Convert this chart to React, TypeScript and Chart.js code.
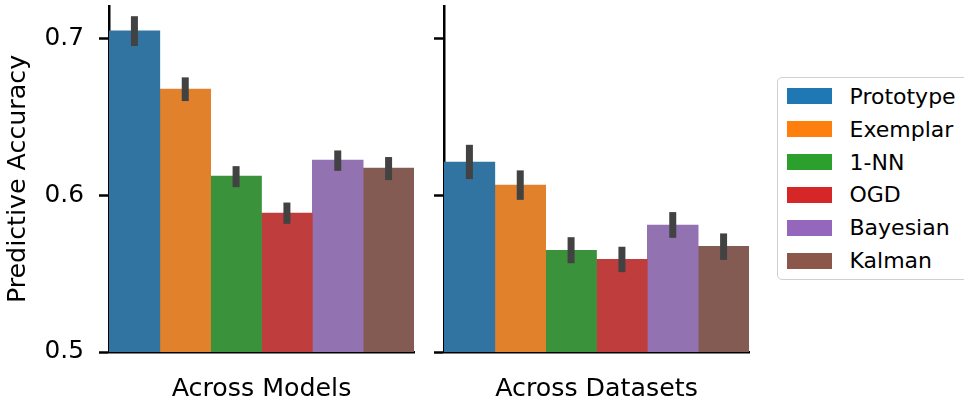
import React, { useEffect, useRef } from "react";
import { Chart, registerables } from "chart.js";

Chart.register(...registerables);

// ---- data ----
const methods = ["Prototype", "Exemplar", "1-NN", "OGD", "Bayesian", "Kalman"];
const panelNames = ["Across Models", "Across Datasets"];
const modelsMean = [0.7047, 0.6676, 0.6121, 0.5885, 0.6223, 0.6172];
const modelsLow = [0.6951, 0.66, 0.6051, 0.5817, 0.6155, 0.6096];
const modelsHigh = [0.7141, 0.6751, 0.6185, 0.5953, 0.6285, 0.6243];
const datasetsMean = [0.6211, 0.6064, 0.5649, 0.5591, 0.5809, 0.5674];
const datasetsLow = [0.6102, 0.597, 0.5566, 0.5509, 0.5728, 0.5587];
const datasetsHigh = [0.6321, 0.6158, 0.5732, 0.5671, 0.5892, 0.5756];
const yTicks = [0.5, 0.6, 0.7];
const yMin = 0.5;
const yMax = 0.7206;
const yTitle = "Predictive Accuracy";

// ---- styles ----
const barColors = ["#3274A1", "#E1812C", "#3A923A", "#C03D3E", "#9372B2", "#845B53"];
const legendColors = ["#1f77b4", "#ff7f0e", "#2ca02c", "#d62728", "#9467bd", "#8c564b"];
const FONT = "'DejaVu Sans', sans-serif";

const errorBarPlugin = {
  id: "errorBars",
  afterDatasetsDraw(chart: any, _args: any, opts: any) {
    const { ctx } = chart;
    const y = chart.scales.y;
    ctx.save();
    ctx.strokeStyle = opts.color;
    ctx.lineWidth = opts.width;
    ctx.lineCap = "butt";
    chart.data.datasets.forEach((_ds: any, i: number) => {
      const el = chart.getDatasetMeta(i).data[0];
      if (!el) return;
      ctx.beginPath();
      ctx.moveTo(el.x, y.getPixelForValue(opts.low[i]));
      ctx.lineTo(el.x, y.getPixelForValue(opts.high[i]));
      ctx.stroke();
    });
    ctx.restore();
  },
};

function makeConfig(
  panel: string,
  means: number[],
  low: number[],
  high: number[],
  showY: boolean,
  yWidth: number,
  padRight: number
): any {
  return {
    type: "bar",
    data: {
      labels: [panel],
      datasets: methods.map((m, i) => ({
        label: m,
        data: [means[i]],
        backgroundColor: barColors[i],
        borderWidth: 0,
        categoryPercentage: 1,
        barPercentage: 1,
      })),
    },
    plugins: [errorBarPlugin],
    options: {
      animation: false,
      responsive: false,
      maintainAspectRatio: false,
      layout: { padding: { left: 0, right: padRight, top: 6, bottom: 0 } },
      plugins: {
        legend: { display: false },
        tooltip: { enabled: false },
        errorBars: { low, high, color: "#424242", width: 7 },
      },
      scales: {
        x: {
          z: 1,
          grid: { display: false, drawTicks: false },
          border: { display: true, color: "#000", width: 2.5 },
          ticks: { font: { family: FONT, size: 25.3 }, color: "#000", padding: 22, maxRotation: 0 },
          afterFit(s: any) {
            s.height = 48;
            s.paddingLeft = 0;
            s.paddingRight = 0;
          },
        },
        y: {
          z: 1,
          min: yMin,
          max: yMax,
          afterBuildTicks(s: any) {
            s.ticks = yTicks.map((v) => ({ value: v }));
          },
          ticks: {
            display: showY,
            font: { family: FONT, size: 24.8 },
            color: "#000",
            padding: 15,
            callback: (v: any) => Number(v).toFixed(1),
          },
          grid: { drawOnChartArea: false, drawTicks: true, tickLength: 10, tickWidth: 2.5, tickColor: "#000" },
          border: { display: true, color: "#000", width: 2.5 },
          title: {
            display: showY,
            text: yTitle,
            font: { family: FONT, size: 25.3 },
            color: "#000",
            padding: { top: 3, bottom: 0 },
          },
          afterFit(s: any) {
            s.width = yWidth;
            s.paddingTop = 0;
            s.paddingBottom = 0;
          },
        },
      },
    },
  };
}

export default function App() {
  const ref1 = useRef<HTMLCanvasElement>(null);
  const ref2 = useRef<HTMLCanvasElement>(null);

  useEffect(() => {
    const c1 = new Chart(ref1.current!, makeConfig(panelNames[0], modelsMean, modelsLow, modelsHigh, true, 109, 6));
    const c2 = new Chart(ref2.current!, makeConfig(panelNames[1], datasetsMean, datasetsLow, datasetsHigh, false, 24, 11));
    return () => {
      c1.destroy();
      c2.destroy();
    };
  }, []);

  return (
    <div style={{ position: "fixed", left: 0, top: 0, width: 964, height: 400, background: "#fff", overflow: "hidden" }}>
      <canvas ref={ref1} width={420} height={400} style={{ position: "absolute", left: 0, top: 0, width: 420, height: 400 }} />
      <canvas ref={ref2} width={340} height={400} style={{ position: "absolute", left: 420, top: 0, width: 340, height: 400 }} />
      <div
        style={{
          position: "absolute",
          left: 777,
          top: 77,
          width: 200,
          height: 203,
          border: "1.5px solid #d0d0d0",
          borderRadius: 5,
          boxSizing: "border-box",
          fontFamily: FONT,
          fontSize: 22,
          color: "#000",
        }}
      >
        {methods.map((m, i) => (
          <div key={m} style={{ position: "absolute", left: 0, top: 19.7 + i * 32.9 - 16.5 - 1.5, height: 33, width: 200 }}>
            <div style={{ position: "absolute", left: 8.5, top: 8.5, width: 45, height: 16, background: legendColors[i] }} />
            <div style={{ position: "absolute", left: 71.5, top: 0, height: 33, lineHeight: "33px", whiteSpace: "nowrap" }}>{m}</div>
          </div>
        ))}
      </div>
    </div>
  );
}
